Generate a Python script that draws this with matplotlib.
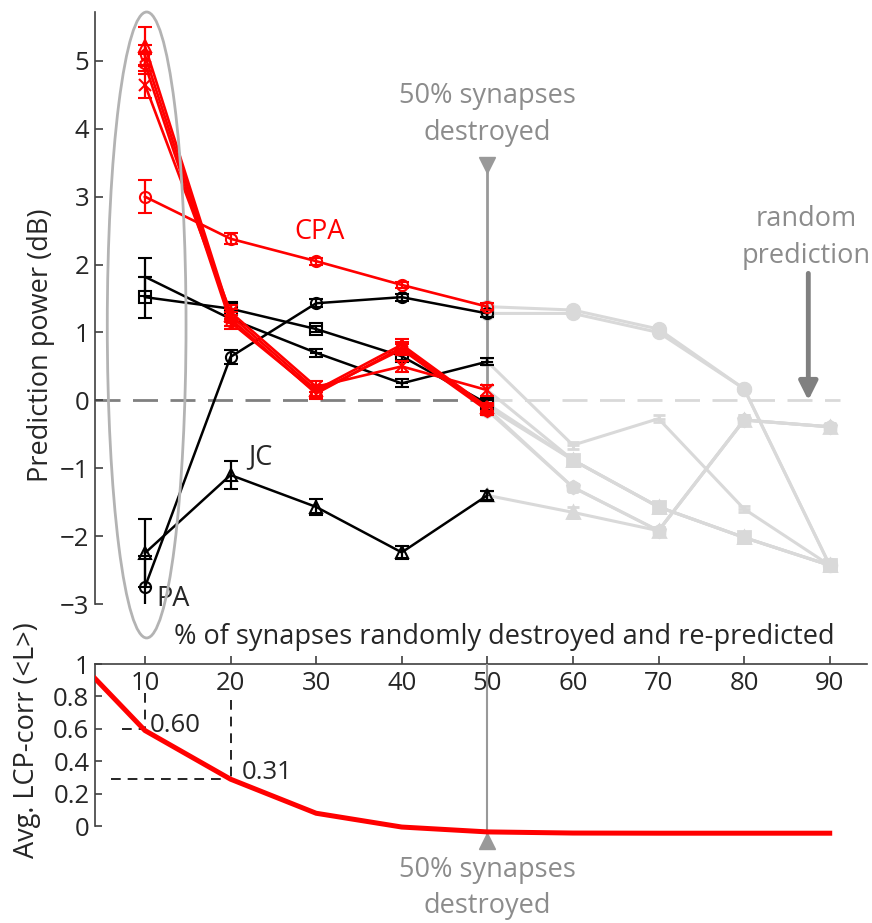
import matplotlib
matplotlib.use('Agg')
import matplotlib.pyplot as plt
from matplotlib.patches import Ellipse

plt.rcParams['font.family'] = ['Open Sans', 'DejaVu Sans']
plt.rcParams['lines.scale_dashes'] = False

# ---------------- data ----------------
pct = [10, 20, 30, 40, 50, 60, 70, 80, 90]

cpa_a = [3.00, 2.38, 2.05, 1.70, 1.38, 1.33, 1.05, 0.17, -2.43]
cpa_a_err = [0.24, 0.08, 0.05, 0.05, 0.05, 0.04, 0.04, 0.04, 0.04]
cpa_b = [5.22, 1.25, 0.15, 0.82, -0.10, -0.88, -1.57, -2.02, -2.43]
cpa_b_err = [0.28, 0.10, 0.08, 0.08, 0.06, 0.05, 0.05, 0.05, 0.04]
cpa_c = [5.08, 1.20, 0.10, 0.78, -0.12, -1.28, -1.92, -0.29, -0.39]
cpa_c_err = [0.15, 0.10, 0.08, 0.08, 0.06, 0.05, 0.05, 0.08, 0.04]
cpa_d = [4.95, 1.15, 0.12, 0.75, -0.15, -1.28, -1.92, -0.29, -0.39]
cpa_d_err = [0.15, 0.10, 0.08, 0.08, 0.06, 0.05, 0.05, 0.05, 0.04]
cpa_e = [4.65, 1.30, 0.20, 0.50, 0.15, -0.88, -1.57, -2.02, -2.43]
cpa_e_err = [0.20, 0.10, 0.08, 0.08, 0.08, 0.05, 0.05, 0.05, 0.04]

pa = [-2.75, 0.64, 1.43, 1.52, 1.28, 1.28, 1.00, 0.17, -2.43]
pa_err = [0.45, 0.10, 0.06, 0.05, 0.05, 0.04, 0.04, 0.04, 0.04]
jc = [-2.25, -1.10, -1.57, -2.24, -1.40, -1.65, -1.92, -0.29, -0.39]
jc_err = [0.50, 0.20, 0.12, 0.10, 0.07, 0.08, 0.06, 0.08, 0.05]
blk_c = [1.82, 1.20, 0.70, 0.25, 0.57, -0.66, -0.27, -1.60, -2.43]
blk_c_err = [0.28, 0.10, 0.06, 0.06, 0.05, 0.05, 0.05, 0.05, 0.04]
blk_d = [1.52, 1.35, 1.05, 0.65, -0.05, -0.88, -1.57, -2.02, -2.43]
blk_d_err = [0.30, 0.10, 0.05, 0.05, 0.05, 0.05, 0.05, 0.05, 0.04]

red_series = [(cpa_a, cpa_a_err, 'o'), (cpa_b, cpa_b_err, '^'), (cpa_c, cpa_c_err, 'p'),
              (cpa_d, cpa_d_err, 'h'), (cpa_e, cpa_e_err, 'x')]
black_series = [(pa, pa_err, 'o'), (jc, jc_err, '^'), (blk_c, blk_c_err, '_'),
                (blk_d, blk_d_err, 's')]

lcp_x = [4, 10, 20, 30, 40, 50, 60, 70, 80, 90]
lcp_y = [0.92, 0.59, 0.29, 0.08, -0.005, -0.035, -0.042, -0.043, -0.043, -0.043]

ytick_top = [-3, -2, -1, 0, 1, 2, 3, 4, 5]
ytick_bot = [0, 0.2, 0.4, 0.6, 0.8, 1.0]
ytick_bot_labels = ['0', '0.2', '0.4', '0.6', '0.8', '1']

# ---------------- figure ----------------
fig = plt.figure(figsize=(8.72, 9.23), dpi=100)
ax = fig.add_axes([0.1089, 0.3456, 0.8853, 0.6414])
ax2 = fig.add_axes([0.1089, 0.0943, 0.8853, 0.1863])
XL = (4.16, 94.35)
TXT = '#262626'
GRAY = '#8c8c8c'
LIGHT = '#d9d9d9'
FS = 18.5      # tick labels
FT = 19.5      # other texts

# zero line
ax.plot([XL[0], 50], [0, 0], color='#808080', lw=2, dashes=(18, 9), zorder=1)
ax.plot([50, 91.2], [0, 0], color=LIGHT, lw=2, dashes=(18, 9), zorder=1)

# gray continuations
for vals, err, m in black_series + red_series:
    ax.errorbar(pct[4:], vals[4:], yerr=err[4:], color=LIGHT, marker=m, mfc=LIGHT, mec=LIGHT,
                ms=9, mew=2, lw=2.2, capsize=4, capthick=1.5, zorder=2)

# 50% marker line
ax.plot([50, 50], [3.4, 0], color='#999999', lw=2, zorder=3)
ax.plot([50], [3.46], marker='v', ms=12, color='#999999', clip_on=False, zorder=3)

for vals, err, m in black_series:
    ax.errorbar(pct[:5], vals[:5], yerr=err[:5], color='black', marker=m, mfc='none',
                ms=8, mew=1.5, lw=1.8, capsize=5, capthick=1.6, elinewidth=1.6, zorder=4)
for vals, err, m in red_series:
    ax.errorbar(pct[:5], vals[:5], yerr=err[:5], color='red', marker=m, mfc='none',
                ms=8, mew=1.5, lw=1.9, capsize=5, capthick=1.6, elinewidth=1.6, zorder=5)

ax.add_patch(Ellipse((10.2, 1.11), width=9.2, height=9.22, fill=False, ec='#b3b3b3',
                     lw=2, clip_on=False, zorder=6))

ax.annotate('', xy=(87.5, 0.0), xytext=(87.5, 1.87),
            arrowprops=dict(arrowstyle='-|>', color='#808080', lw=3.5, mutation_scale=28,
                            shrinkA=0, shrinkB=0))
ax.text(87.3, 2.40, 'random\nprediction', ha='center', va='center', color=GRAY,
        fontsize=FT, linespacing=1.42)
ax.text(50, 4.21, '50% synapses\ndestroyed', ha='center', va='center', color=GRAY,
        fontsize=FT, linespacing=1.42)
ax.text(30.4, 2.48, 'CPA', ha='center', va='center', color='red', fontsize=FT)
ax.text(23.5, -0.83, 'JC', ha='center', va='center', color=TXT, fontsize=FT)
ax.text(13.3, -2.92, 'PA', ha='center', va='center', color=TXT, fontsize=FT)

ax.set_xlim(*XL)
ax.set_ylim(-3, 5.72)
ax.set_yticks(ytick_top)
ax.tick_params(axis='y', direction='in', length=6, width=1.2, labelsize=FS, pad=4,
               colors='#404040', labelcolor=TXT)
ax.set_xticks([])
for s in ['top', 'right', 'bottom']:
    ax.spines[s].set_visible(False)
ax.spines['left'].set_bounds(-3, 5.72)
ax.spines['left'].set_color('#404040')
ax.spines['left'].set_linewidth(1.2)
ax.patch.set_alpha(0)

# ---------------- bottom panel ----------------
ax2.plot(lcp_x, lcp_y, color='red', lw=3.6, zorder=4)
ax2.plot([50, 50], [1.0, -0.05], color='#999999', lw=1.5, zorder=3)
ax2.plot([50], [-0.093], marker='^', ms=12, color='#999999', clip_on=False, zorder=3)
ax2.plot([10, 10], [0.82, 0.6], color='black', lw=1.2, dashes=(7, 5))
ax2.plot([7.3, 10], [0.6, 0.6], color='black', lw=1.2, dashes=(7, 5))
ax2.plot([20, 20], [0.78, 0.29], color='black', lw=1.2, dashes=(7, 5))
ax2.plot([6.0, 20], [0.29, 0.29], color='black', lw=1.2, dashes=(7, 5))
ax2.text(10.6, 0.62, '0.60', ha='left', va='center', color=TXT, fontsize=FS)
ax2.text(21.3, 0.33, '0.31', ha='left', va='center', color=TXT, fontsize=FS)

ax2.set_xlim(*XL)
ax2.set_ylim(-0.06, 1.0)
ax2.set_xticks(pct)
ax2.set_xticklabels([str(p) for p in pct])
ax2.xaxis.tick_top()
ax2.tick_params(axis='x', direction='out', length=6, width=1.2, labelsize=FS, pad=-29,
                colors='#404040', labelcolor=TXT)
ax2.set_yticks(ytick_bot)
ax2.set_yticklabels(ytick_bot_labels)
ax2.tick_params(axis='y', direction='in', length=5, width=1.2, labelsize=FS, pad=4,
                colors='#404040', labelcolor=TXT)
ax2.spines['right'].set_visible(False)
ax2.spines['bottom'].set_visible(False)
ax2.spines['left'].set_bounds(0, 1.0)
for s in ['left', 'top']:
    ax2.spines[s].set_color('#404040')
    ax2.spines[s].set_linewidth(1.2)
ax2.patch.set_alpha(0)

fig.text(41 / 872, 1 - 345 / 923, 'Prediction power (dB)', rotation=90, ha='center',
         va='center', fontsize=FT, color=TXT)
fig.text(27 / 872, 1 - 740 / 923, 'Avg. LCP-corr (<L>)', rotation=90, ha='center',
         va='center', fontsize=FT, color=TXT)
fig.text(504 / 872, 1 - 637 / 923, '% of synapses randomly destroyed and re-predicted',
         ha='center', va='center', fontsize=FT, color=TXT)
fig.text(487 / 872, 1 - 888 / 923, '50% synapses\ndestroyed', ha='center', va='center',
         fontsize=FT, color=GRAY, linespacing=1.42)

fig.savefig('out.png', dpi=100)
